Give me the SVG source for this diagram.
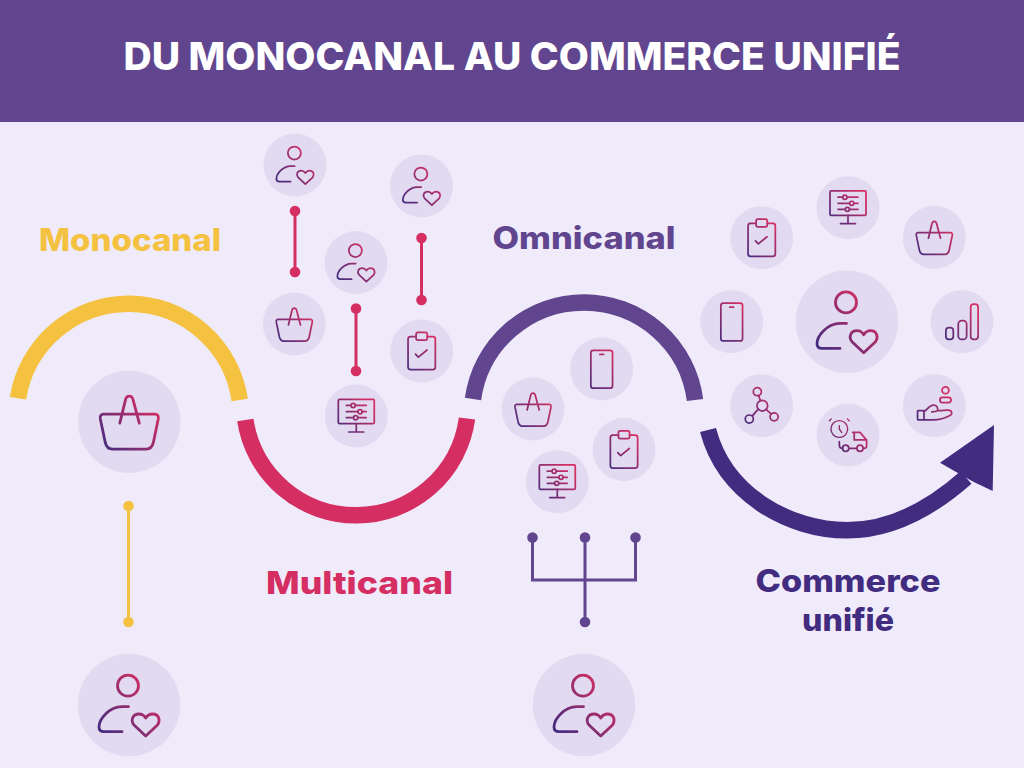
<svg xmlns="http://www.w3.org/2000/svg" width="1024" height="768" viewBox="0 0 1024 768">
<style>
.d{fill:#e1daf0}
.i{fill:none;stroke:url(#g);stroke-width:2.8;stroke-linecap:round;stroke-linejoin:round}
.t{font-family:"Inter","Liberation Sans",sans-serif;font-weight:800;text-anchor:middle}
.arc{fill:none;stroke-width:16.5}
.c{fill:none;stroke-width:3}
</style>
<defs>
<linearGradient id="g" gradientUnits="userSpaceOnUse" x1="-28" y1="28" x2="24" y2="-16"><stop offset="0" stop-color="#412c80"/><stop offset="1" stop-color="#d42e62"/></linearGradient>
<g id="user" class="i"><circle cx="-1" cy="-19.3" r="10.5"/><path d="M-0.5 1.7H-7C-20 2-30 14-30 22C-30 25-28 26.7-25 26.7H-7"/><path d="M16.7 31L5 20C1 15 4 9 10 9C13 9 15.5 11 16.7 13C18 11 20.5 9 23.5 9C29.5 9 32 15 28.5 20Z"/></g>
<g id="basket" class="i"><path d="M-9.5 1.5L-4-21C-3-27 3-27 4-21L10 1.5"/><path d="M-26-7.5H26C28-7.5 29.5-6 29-3L24 21C23 25 21 27.5 17 27.5H-17C-21 27.5-23 25-24 21L-29-3C-29.5-6-28-7.5-26-7.5Z"/></g>
<g id="phone" class="i"><rect x="-17.5" y="-30" width="35" height="61" rx="4"/><path d="M-3-23.500H3"/></g>
<g id="clip" class="i"><path d="M-9-23H-18Q-22-23-22-19V26Q-22 30-18 30H18Q22 30 22 26V-19Q22-23 18-23H9"/><rect x="-9" y="-30" width="18" height="12.500" rx="3"/><path d="M-10 5L-5.400 10L8.600-1.600"/></g>
<g id="monitor" class="i"><rect x="-29" y="-27" width="58" height="39.400" rx="2"/><path d="M0 12.400V25.800M-12 25.800H12M-16-17H-8.400M-1.600-17H16M-16-7H2.600M9.400-7H16M-16 2.700H-4.400M2.400 2.700H16"/><circle cx="-5" cy="-17" r="3.400"/><circle cx="6" cy="-7" r="3.400"/><circle cx="-1" cy="2.700" r="3.400"/></g>
<g id="signal" class="i"><rect x="-26" y="9.600" width="12" height="18.900" rx="5"/><rect x="-6" y="-1.600" width="13.500" height="30.100" rx="5.500"/><rect x="14" y="-28.500" width="12" height="57" rx="5"/></g>
<g id="net" class="i"><circle cx="1" cy="0" r="8.600"/><circle cx="-7" cy="-22.600" r="6.500"/><circle cx="-20" cy="21.500" r="6.500"/><circle cx="20" cy="18" r="6.500"/><path d="M-2-8L-5-16.500M-6 6L-15 16.500M7 6L15.500 13.500"/></g>
<g id="hand" class="i"><circle cx="18" cy="-25" r="5.500"/><rect x="9" y="-13.500" width="18" height="8.500" rx="4.200"/><rect x="-27" y="8" width="10.400" height="15" rx="1"/><path d="M-16.600 9C-12 8-9-1-1-1C4-1 6 3 5.500 8C12 8.500 20 6 25 7.500C29 9 29 14 26 15.500C18 20 8 23-2 23H-16.600M5.500 8C3 10-1 10-4 10"/></g>
<g id="truck" class="i"><g style="stroke-width:2.200"><circle cx="-14" cy="-9.700" r="13.500"/><path d="M-14-15V-9.700L-10-4M-27-26L-30-23M-1-26L2-23"/></g><path d="M7.500-4.300H19.400L30 8V18Q30 21.500 25 21.500M10-4.300V8H30M-14 10.700V16Q-14 21.500-8.700 21.500M1.300 21.500H14.400"/><circle cx="-3.700" cy="21.500" r="5"/><circle cx="19.400" cy="21.500" r="5"/></g>
</defs>
<rect width="1024" height="768" fill="#f0ebfa"/>
<g id="header"><rect width="1024" height="122" fill="#61468f"/><text class="t" x="512" y="69.500" font-size="38" fill="#fff" textLength="777" lengthAdjust="spacingAndGlyphs">DU MONOCANAL AU COMMERCE UNIFIÉ</text></g>

<g id="labels">
<text class="t" x="130" y="251" font-size="31" fill="#f4c141" textLength="182" lengthAdjust="spacingAndGlyphs">Monocanal</text>
<text class="t" x="359.500" y="594" font-size="31" fill="#d42e62" textLength="187" lengthAdjust="spacingAndGlyphs">Multicanal</text>
<text class="t" x="584" y="249" font-size="31" fill="#61468f" textLength="183" lengthAdjust="spacingAndGlyphs">Omnicanal</text>
<text class="t" x="848" y="592" font-size="31" fill="#412c80" textLength="185" lengthAdjust="spacingAndGlyphs">Commerce</text>
<text class="t" x="848" y="631" font-size="31" fill="#412c80" textLength="92" lengthAdjust="spacingAndGlyphs">unifié</text>
</g>

<g id="connectors">
<path class="arc" stroke="#f4c141" d="M18 398.300A112.100 112.100 0 0 1 239.700 400"/>
<path class="arc" stroke="#d42e62" d="M245.300 420A112 112 0 0 0 467 418.500"/>
<path class="arc" stroke="#61468f" d="M473 399A112 112 0 0 1 695 400"/>
<path class="arc" stroke="#412c80" d="M708 430C725 495 790 530.300 847 530.300C895 530.300 935 505 966 477.500"/>
<polygon fill="#412c80" points="994,425 940,462.700 958.300,473.300 973.300,481.700 992.700,491"/>
<g class="c" stroke="#f4c141"><path d="M128.500 506V622"/></g>
<g fill="#f4c141"><circle cx="128.500" cy="506" r="5.300"/><circle cx="128.500" cy="622" r="5.300"/></g>
<g class="c" stroke="#d42e62"><path d="M295 211V272M356 308.500V371M421.500 238V300"/></g>
<g fill="#d42e62"><circle cx="295" cy="211" r="5.300"/><circle cx="295" cy="272" r="5.300"/><circle cx="356" cy="308.500" r="5.300"/><circle cx="356" cy="371" r="5.300"/><circle cx="421.500" cy="238" r="5.300"/><circle cx="421.500" cy="300" r="5.300"/></g>
<g class="c" stroke="#61468f"><path d="M532.500 537.500V580H635.500V537.500M585 537.500V622"/></g>
<g fill="#61468f"><circle cx="532.500" cy="537.500" r="5.300"/><circle cx="585" cy="537.500" r="5.300"/><circle cx="635.500" cy="537.500" r="5.300"/><circle cx="585" cy="622" r="5.300"/></g>
</g>

<g id="n-mono-basket"><circle class="d" cx="129.300" cy="421.700" r="51.200"/><use href="#basket" transform="translate(129.300 421.700)"/></g>
<g id="n-mono-user"><circle class="d" cx="129" cy="705" r="51.200"/><use href="#user" transform="translate(129 705)"/></g>

<g id="n-multi-user1"><circle class="d" cx="295" cy="165" r="31.500"/><use href="#user" transform="translate(295 165) scale(.62)"/></g>
<g id="n-multi-user2"><circle class="d" cx="421.500" cy="186" r="31.500"/><use href="#user" transform="translate(421.500 186) scale(.62)"/></g>
<g id="n-multi-user3"><circle class="d" cx="356" cy="262.500" r="31.500"/><use href="#user" transform="translate(356 262.500) scale(.62)"/></g>
<g id="n-multi-basket"><circle class="d" cx="294.300" cy="324" r="31.500"/><use href="#basket" transform="translate(294.300 324) scale(.62)"/></g>
<g id="n-multi-clip"><circle class="d" cx="421.700" cy="351" r="31.500"/><use href="#clip" transform="translate(421.700 351) scale(.62)"/></g>
<g id="n-multi-monitor"><circle class="d" cx="356.300" cy="416" r="31.500"/><use href="#monitor" transform="translate(356.300 416) scale(.62)"/></g>

<g id="n-omni-phone"><circle class="d" cx="601.700" cy="369" r="31.500"/><use href="#phone" transform="translate(601.700 369) scale(.62)"/></g>
<g id="n-omni-basket"><circle class="d" cx="533" cy="409" r="31.500"/><use href="#basket" transform="translate(533 409) scale(.62)"/></g>
<g id="n-omni-clip"><circle class="d" cx="624" cy="449.500" r="31.500"/><use href="#clip" transform="translate(624 449.500) scale(.62)"/></g>
<g id="n-omni-monitor"><circle class="d" cx="557.300" cy="481.700" r="31.500"/><use href="#monitor" transform="translate(557.300 481.700) scale(.62)"/></g>
<g id="n-omni-user"><circle class="d" cx="584" cy="705" r="51.200"/><use href="#user" transform="translate(584 705)"/></g>

<g id="n-uni-clip"><circle class="d" cx="761.700" cy="237.700" r="31.500"/><use href="#clip" transform="translate(761.700 237.700) scale(.62)"/></g>
<g id="n-uni-monitor"><circle class="d" cx="848" cy="207.700" r="31.500"/><use href="#monitor" transform="translate(848 207.700) scale(.62)"/></g>
<g id="n-uni-basket"><circle class="d" cx="934.300" cy="237.300" r="31.500"/><use href="#basket" transform="translate(934.300 237.300) scale(.62)"/></g>
<g id="n-uni-phone"><circle class="d" cx="731.700" cy="321.700" r="31.500"/><use href="#phone" transform="translate(731.700 321.700) scale(.62)"/></g>
<g id="n-uni-user"><circle class="d" cx="847" cy="321.700" r="51.200"/><use href="#user" transform="translate(847 321.700)"/></g>
<g id="n-uni-signal"><circle class="d" cx="962" cy="321.700" r="31.500"/><use href="#signal" transform="translate(962 321.700) scale(.62)"/></g>
<g id="n-uni-net"><circle class="d" cx="761.700" cy="405.700" r="31.500"/><use href="#net" transform="translate(761.700 405.700) scale(.62)"/></g>
<g id="n-uni-truck"><circle class="d" cx="848" cy="435" r="31.500"/><use href="#truck" transform="translate(848 435) scale(.62)"/></g>
<g id="n-uni-hand"><circle class="d" cx="934.300" cy="405.700" r="31.500"/><use href="#hand" transform="translate(934.300 405.700) scale(.62)"/></g>
</svg>
